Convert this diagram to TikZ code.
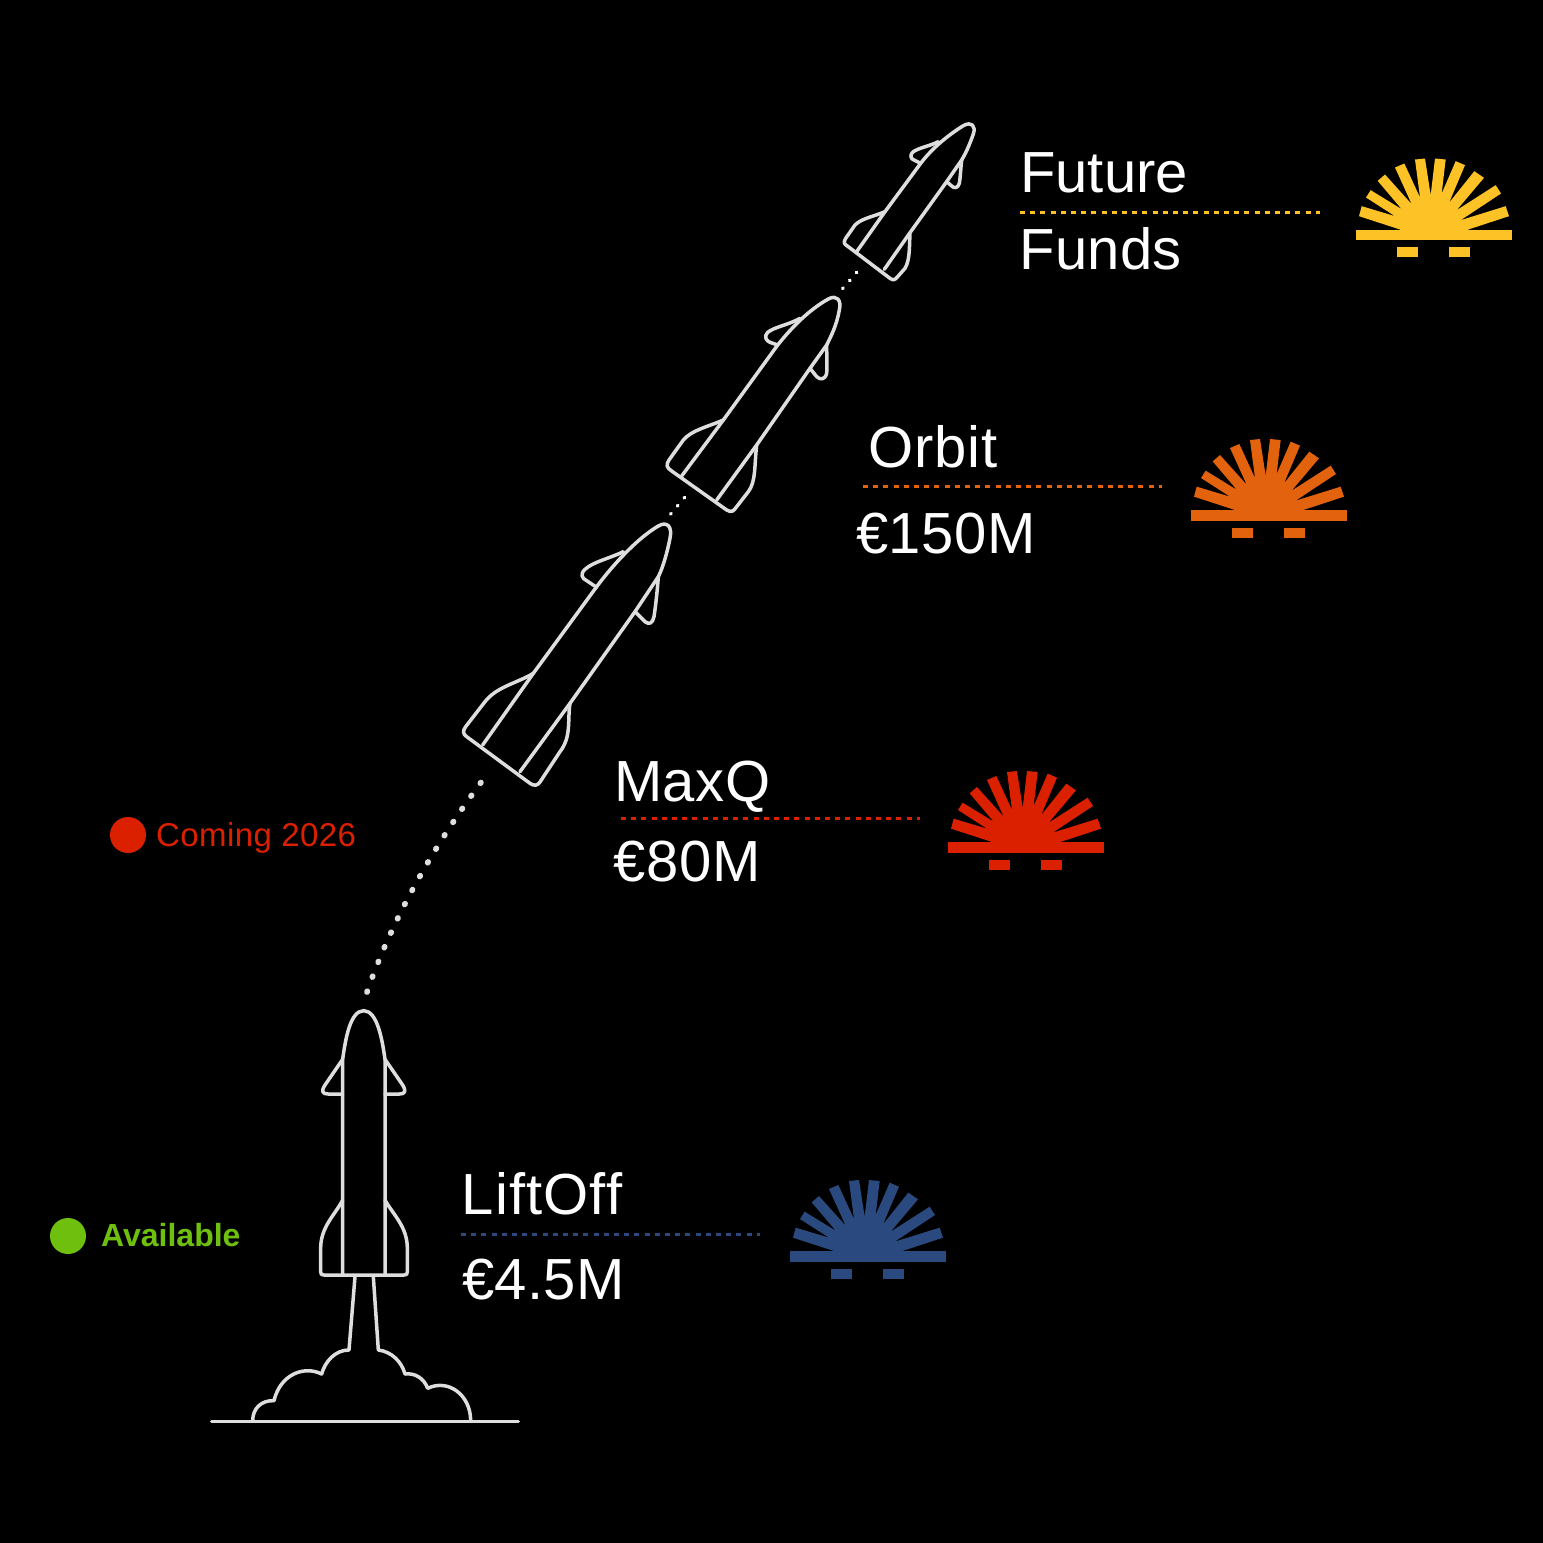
\documentclass[tikz,border=0pt]{standalone}
\usepackage{fontspec}
\setmainfont{Liberation Sans}
\definecolor{cyellow}{HTML}{FDC326}
\definecolor{corange}{HTML}{E2620E}
\definecolor{cred}{HTML}{DB2000}
\definecolor{cblue}{HTML}{2A4A7F}
\definecolor{cgreen}{HTML}{6FBF0E}
\definecolor{cline}{HTML}{DEDEDE}
\newcommand{\bigtext}{\fontsize{58}{58}\selectfont}
\newcommand{\smalltext}{\fontsize{32}{32}\selectfont}
\newcommand{\lsp}[1]{\addfontfeature{LetterSpace=#1}}
\tikzset{
  rocketline/.style={draw=cline,line width=3.5pt,line join=round,line cap=round},
  title/.style={text=white,inner sep=0pt,anchor=base west,font=\bigtext},
  legend/.style={inner sep=0pt,anchor=base west,font=\smalltext},
  rule/.style={line width=3pt,dash pattern=on 5pt off 5.2pt},
  trail/.style={draw=cline,line width=5.8pt,line cap=round,dash pattern=on 0.8pt off 15.1pt},
  shorttrail/.style={draw=white,line width=3.6pt,line cap=round,dash pattern=on 0.6pt off 9.9pt},
}
% #1 bar-top centre x, #2 bar-top y, #3 colour
\newcommand{\sunshape}[3]{%
\begin{scope}[shift={(#1,#2)},scale=1/3]
  \fill[#3] (-102,6)--(-102,0)--(-225,-40)--(-217,-70)--(-117,-40)--(-204,-96)--(-190,-118)--(-97,-61)--(-169,-146)--(-147,-165)--(-67,-76)--(-117,-186)--(-89,-198)--(-42,-96)--(-57,-210)--(-27,-213)--(-10,-103)--(3,-213)--(35,-210)--(23,-108)--(65,-205)--(93,-193)--(45,-80)--(121,-175)--(150,-155)--(68,-58)--(185,-133)--(201,-108)--(80,-28)--(215,-70)--(225,-40)--(103,0)--(103,6)--cycle;
  \fill[#3] (-234,0) rectangle (234,32);
  \fill[#3] (-112,53) rectangle (-49,83);
  \fill[#3] (45,53) rectangle (108,83);
\end{scope}}
\begin{document}
\begin{tikzpicture}[x=1pt,y=-1pt]
\useasboundingbox (0,0) rectangle (1543,1543);
\fill[black] (0,0) rectangle (1543,1543);

% launch rocket and smoke
\begin{scope}[shift={(200,1000)},scale=1/3]
  \path[rocketline] (428,825) -- (428,178) .. controls (436,120) and (450,32) .. (491,32)
     .. controls (532,32) and (547,120) .. (555,178) -- (555,825);
  \path[rocketline] (428,178) -- (375,255) .. controls (362,275) and (368,282) .. (385,282) -- (428,282);
  \path[rocketline] (555,178) -- (608,255) .. controls (620,275) and (614,282) .. (598,282) -- (555,282);
  \path[rocketline] (428,600) .. controls (405,645) and (362,680) .. (362,745) -- (362,815)
     .. controls (362,823) and (364,825) .. (372,825) -- (612,825) .. controls (620,825) and (622,823) .. (622,815)
     -- (622,745) .. controls (622,680) and (580,645) .. (555,600);
  \path[rocketline] (465,830) -- (447,1050) .. controls (405,1050) and (375,1085) .. (365,1122)
     .. controls (310,1095) and (240,1125) .. (222,1202) .. controls (185,1200) and (158,1225) .. (158,1262);
  \path[rocketline] (520,830) -- (535,1050) .. controls (575,1055) and (605,1085) .. (615,1122)
     .. controls (645,1118) and (672,1135) .. (683,1165) .. controls (745,1135) and (812,1185) .. (812,1262);
  \coordinate (gl) at (35,1264);
  \coordinate (gr) at (955,1264);
  \path[rocketline] (gl) -- (gr);
\end{scope}

% MaxQ rocket
\begin{scope}[shift={(450,510)},scale=1/3]
  \path[rocketline] (98,705) -- (250,490) -- (440,230) .. controls (500,150) and (570,80) .. (625,48)
     .. controls (650,33) and (668,48) .. (660,85) .. controls (652,125) and (640,170) .. (625,200) -- (555,305) -- (360,580) -- (210,785);
  \path[rocketline] (250,490) .. controls (200,520) and (140,530) .. (105,575) -- (47,650)
     .. controls (38,662) and (38,672) .. (50,680) -- (240,820) .. controls (252,828) and (262,828) .. (270,816)
     -- (330,725) .. controls (365,680) and (352,630) .. (360,580);
  \path[rocketline] (520,125) .. controls (480,145) and (430,155) .. (405,178)
     .. controls (390,192) and (395,205) .. (410,212) -- (440,232);
  \path[rocketline] (625,200) .. controls (622,240) and (618,280) .. (612,320)
     .. controls (608,340) and (598,345) .. (585,335) -- (555,305);
\end{scope}

% Orbit rocket
\begin{scope}[shift={(655,285)},scale=1/3]
  \path[rocketline] (80,573) -- (205,405) -- (368,180) .. controls (420,115) and (470,70) .. (520,42)
     .. controls (545,28) and (560,45) .. (553,75) .. controls (545,120) and (530,150) .. (515,180) -- (465,250) -- (305,480) -- (185,645);
  \path[rocketline] (205,405) .. controls (160,425) and (110,435) .. (85,465) -- (42,525)
     .. controls (32,540) and (35,548) .. (50,558) -- (215,675) .. controls (230,684) and (236,678) .. (245,665)
     -- (280,620) .. controls (303,590) and (298,540) .. (305,480);
  \path[rocketline] (435,100) .. controls (400,120) and (360,125) .. (338,142)
     .. controls (325,155) and (335,168) .. (345,172) -- (368,180);
  \path[rocketline] (515,180) .. controls (515,210) and (517,240) .. (515,265)
     .. controls (510,285) and (495,285) .. (485,275) -- (465,250);
\end{scope}

% Future rocket
\begin{scope}[shift={(830,110)},scale=1/3]
  \path[rocketline] (80,425) -- (165,305) -- (272,160) .. controls (310,110) and (360,72) .. (400,47)
     .. controls (425,33) and (438,48) .. (430,72) .. controls (420,100) and (410,125) .. (395,150) -- (350,215) -- (240,368) -- (163,478);
  \path[rocketline] (165,305) .. controls (130,320) and (95,325) .. (75,345) -- (47,385)
     .. controls (40,397) and (42,402) .. (52,408) -- (180,505) .. controls (190,512) and (195,510) .. (203,500)
     -- (225,475) .. controls (240,450) and (238,410) .. (240,368);
  \path[rocketline] (325,95) .. controls (300,108) and (270,112) .. (250,125)
     .. controls (238,133) and (242,148) .. (252,150) -- (272,160);
  \path[rocketline] (395,150) .. controls (392,175) and (392,195) .. (388,220)
     .. controls (384,235) and (372,236) .. (365,228) -- (350,215);
\end{scope}

% trails
\coordinate (t1a) at (367,992);
\coordinate (t1b) at (483.5,779);
\path[trail] (t1a) .. controls (393,917) and (435,844) .. (t1b);
\coordinate (t2a) at (670.7,514);
\coordinate (t2b) at (685,497);
\path[shorttrail] (t2a) -- (t2b);
\coordinate (t3a) at (842.7,288.5);
\coordinate (t3b) at (856.7,272.3);
\path[shorttrail] (t3a) -- (t3b);

% titles
\node[title] (future) at (1020,192) {Future};
\node[title] (funds) at (1019.5,269) {\lsp{0.4}Funds};
\node[title] (orbit) at (868.5,467) {\lsp{1.4}Orbit};
\node[title] (p150) at (856,553) {\lsp{1}€150M};
\node[title] (maxq) at (614,801) {\lsp{0.8}MaxQ};
\node[title] (p80) at (613.5,881) {\lsp{1}€80M};
\node[title] (lift) at (461.5,1214) {\lsp{2}LiftOff};
\node[title] (p45) at (462,1299) {\lsp{0.7}€4.5M};

% rules
\coordinate (r1a) at (1020,212); \coordinate (r1b) at (1320,212);
\coordinate (r2a) at (863,486);  \coordinate (r2b) at (1162,486);
\coordinate (r3a) at (621,818);  \coordinate (r3b) at (920,818);
\coordinate (r4a) at (461,1234); \coordinate (r4b) at (760,1234);
\draw[rule,cyellow] (r1a) -- (r1b);
\draw[rule,corange] (r2a) -- (r2b);
\draw[rule,cred] (r3a) -- (r3b);
\draw[rule,cblue] (r4a) -- (r4b);

% suns
\sunshape{1434}{229.5}{cyellow}
\sunshape{1269}{510}{corange}
\sunshape{1026}{842}{cred}
\sunshape{868}{1251}{cblue}

% legend
\fill[cred] (128,835) circle (18);
\node[legend,text=cred,font=\fontsize{33}{33}\selectfont] (coming) at (156,846) {\lsp{1.2}Coming 2026};
\fill[cgreen] (68,1236) circle (18);
\node[legend,text=cgreen,font=\smalltext\bfseries] (avail) at (101,1246) {Available};
\end{tikzpicture}
\end{document}
